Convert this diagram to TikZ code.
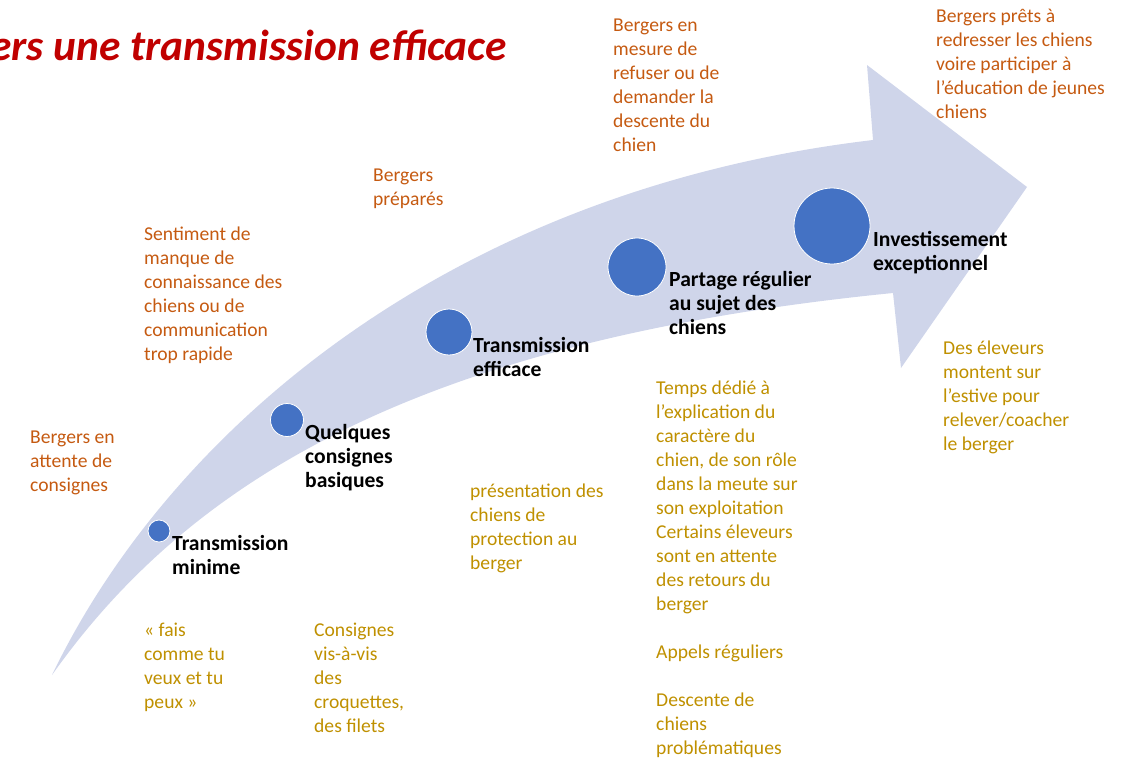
\documentclass[tikz,border=0pt]{standalone}
\usepackage{fontspec}
\setmainfont{Carlito}
\definecolor{arrowfill}{HTML}{CFD5EA}
\definecolor{dotblue}{HTML}{4472C4}
\definecolor{txtorange}{HTML}{C55A11}
\definecolor{txtgold}{HTML}{BF9000}
\definecolor{titlered}{HTML}{C00000}
\begin{document}
\begin{tikzpicture}[x=1pt,y=-1pt,
  dot/.style={circle,fill=dotblue,draw=white,line width=0.8pt,inner sep=0pt},
  txt/.style={anchor=north west,inner sep=0pt,align=left,execute at begin node={\rule{0pt}{14pt}}},
  lab/.style={txt,font=\fontsize{21.6}{24}\selectfont\bfseries,text=black},
  upper/.style={txt,font=\fontsize{19.6}{24}\selectfont,text=txtorange},
  lower/.style={txt,font=\fontsize{19.6}{24}\selectfont,text=txtgold}]
\useasboundingbox (0,0) rectangle (1139,758);
% curved arrow
\fill[arrowfill] (52,675) .. controls (170,430) and (450,190) .. (873,140)
  -- (867,65) -- (1027,187) -- (901,368) -- (893,293)
  .. controls (420,340) and (190,480) .. cycle;
% title
\begin{scope}
\clip (0,0) rectangle (1139,758);
\node[anchor=base east,inner sep=0pt,text=titlered,font=\fontsize{43.4}{48}\selectfont\bfseries\itshape] (title) at (507,60) {vers une transmission efficace};
\end{scope}
% dots
\node[dot,minimum size=22pt] (d1) at (159,531) {};
\node[dot,minimum size=33pt] (d2) at (287,420) {};
\node[dot,minimum size=46pt] (d3) at (449,332) {};
\node[dot,minimum size=58pt] (d4) at (637,267) {};
\node[dot,minimum size=76pt] (d5) at (832,226) {};
% stage labels
\node[lab] (l1) at (172,535) {Transmission\\minime};
\node[lab] (l2) at (305,424) {Quelques\\consignes\\basiques};
\node[lab] (l3) at (473,337) {Transmission\\efficace};
\node[lab] (l4) at (669,271) {Partage régulier\\au sujet des\\chiens};
\node[lab] (l5) at (873,231) {Investissement\\exceptionnel};
% upper (orange) texts
\node[upper] (u1) at (30,431) {Bergers en\\attente de\\consignes};
\node[upper] (u2) at (144,227) {Sentiment de\\manque de\\connaissance des\\chiens ou de\\communication\\trop rapide};
\node[upper] (u3) at (373,169) {Bergers\\préparés};
\node[upper] (u4) at (613,19) {Bergers en\\mesure de\\refuser ou de\\demander la\\descente du\\chien};
\node[upper] (u5) at (936,9) {Bergers prêts à\\redresser les chiens\\voire participer à\\l’éducation de jeunes\\chiens};
% lower (gold) texts
\node[lower] (b1) at (144,623) {« fais\\comme tu\\veux et tu\\peux »};
\node[lower] (b2) at (314,623) {Consignes\\vis-à-vis\\des\\croquettes,\\des filets};
\node[lower] (b3) at (470,484) {présentation des\\chiens de\\protection au\\berger};
\node[lower] (b4) at (656,381) {Temps dédié à\\l’explication du\\caractère du\\chien, de son rôle\\dans la meute sur\\son exploitation\\Certains éleveurs\\sont en attente\\des retours du\\berger\\[24pt]Appels réguliers\\[24pt]Descente de\\chiens\\problématiques};
\node[lower] (b5) at (943,341) {Des éleveurs\\montent sur\\l’estive pour\\relever/coacher\\le berger};
\end{tikzpicture}
\end{document}
